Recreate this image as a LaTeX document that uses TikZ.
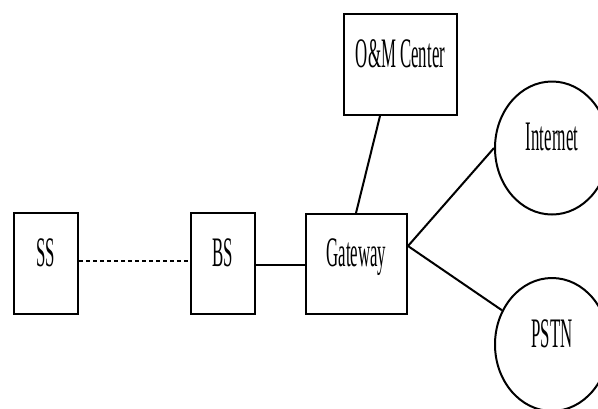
\documentclass[tikz,border=0pt]{standalone}
\usepackage{fontspec}
\setmainfont{Liberation Serif}[FakeStretch=0.4]
\usetikzlibrary{shapes.geometric,calc}
\begin{document}
\begin{tikzpicture}[x=1pt,y=-1pt,
  lbl/.style={font=\fontsize{42}{45}\selectfont, text height=27pt, text depth=22pt, inner sep=0pt},
  boxn/.style={lbl, draw, line width=2pt, minimum width=64pt, minimum height=101pt},
  cloud/.style={lbl, draw, ellipse, line width=2pt, minimum width=114pt, minimum height=133pt},
  conn/.style={line width=2pt}]
\useasboundingbox (0,0) rectangle (598,408);
\node[boxn] (ss) at (46,263.5) {SS};
\node[boxn] (bs) at (223,263.5) {BS};
\node[boxn, minimum width=101pt, minimum height=100pt] (gw) at (356.5,264) {Gateway};
\node[boxn, minimum width=113pt] (om) at (400.5,64.5) {O\&M Center};
\node[cloud] (inet) at (552,148) {Internet};
\node[cloud] (pstn) at (552,344.5) {PSTN};
\coordinate (gwp) at ($(gw.north east)+(0,33)$);
\draw[conn, dash pattern=on 4pt off 3pt] (ss.east |- 0,261) -- (bs.west |- 0,261);
\draw[conn] (bs.east |- 0,265) -- (gw.west |- 0,265);
\draw[conn] ($(om.south west)+(37,0)$) -- ($(gw.north west)+(51,0)$);
\draw[conn] (gwp) -- (inet.west);
\draw[conn] (gwp) -- (pstn);
\end{tikzpicture}
\end{document}
